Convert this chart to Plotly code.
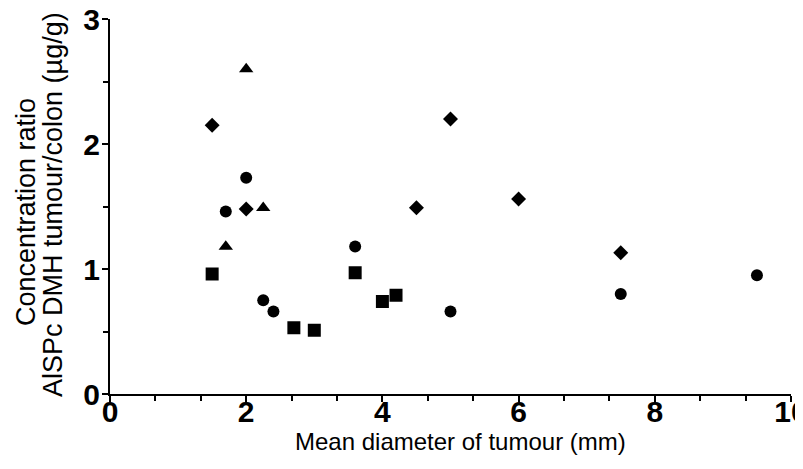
import plotly.graph_objects as go

# Data
circle_x = [1.7, 2.0, 2.25, 2.4, 3.6, 5.0, 7.5, 9.5]
circle_y = [1.46, 1.73, 0.75, 0.66, 1.18, 0.66, 0.80, 0.95]

square_x = [1.5, 2.7, 3.0, 3.6, 4.0, 4.2]
square_y = [0.96, 0.53, 0.51, 0.97, 0.74, 0.79]

triangle_x = [1.7, 2.0, 2.25]
triangle_y = [1.18, 2.60, 1.49]

diamond_x = [1.5, 2.0, 4.5, 5.0, 6.0, 7.5]
diamond_y = [2.15, 1.48, 1.49, 2.20, 1.56, 1.13]

x_ticks = [0, 2, 4, 6, 8, 10]
y_ticks = [0, 1, 2, 3]

y_title_lines = ["Concentration ratio", "AlSPc DMH tumour/colon (µg/g)"]
x_title = "Mean diameter of tumour (mm)"

fig = go.Figure()
series = [
    (circle_x, circle_y, "circle", 12),
    (square_x, square_y, "square", 13),
    (triangle_x, triangle_y, "triangle-up", 12.5),
    (diamond_x, diamond_y, "diamond", 11.5),
]
for xs, ys, sym, sz in series:
    fig.add_trace(go.Scatter(
        x=xs, y=ys, mode="markers",
        marker=dict(symbol=sym, size=sz, color="black", line=dict(width=0)),
        showlegend=False, cliponaxis=False,
    ))

tickfont = dict(family="Liberation Sans Narrow, Arial Narrow, sans-serif", size=30, color="black", weight="bold")
xtitlefont = dict(family="Liberation Sans, Arial, sans-serif", size=24, color="black")
ytitlefont = dict(family="Liberation Sans, Arial, sans-serif", size=27, color="black")

# page body has an 8px margin, so the figure is sized/offset to compensate
fig.update_layout(
    width=795, height=461,
    margin=dict(l=102, r=12, t=11, b=75),
    paper_bgcolor="white", plot_bgcolor="white",
    xaxis=dict(
        range=[0, 10], tickvals=x_ticks, ticktext=[str(v) for v in x_ticks],
        showgrid=False, zeroline=False, showline=True, linecolor="black", linewidth=2,
        ticks="outside", ticklen=6, tickwidth=2, tickcolor="black",
        minor=dict(dtick=2/3, tick0=0, ticks="outside", ticklen=5, tickwidth=2, tickcolor="black", showgrid=False),
        tickfont=tickfont, automargin=False, ticklabeloverflow="allow",
        ticklabelstandoff=-16,
    ),
    yaxis=dict(
        range=[0, 3], tickvals=y_ticks, ticktext=[str(v) for v in y_ticks],
        showgrid=False, zeroline=False, showline=True, linecolor="black", linewidth=2,
        ticks="outside", ticklen=6, tickwidth=2, tickcolor="black",
        minor=dict(dtick=0.5, tick0=0, ticks="outside", ticklen=5, tickwidth=2, tickcolor="black", showgrid=False),
        tickfont=tickfont, automargin=False, ticklabeloverflow="allow",
        ticklabelstandoff=-4,
    ),
)

PLOT_L, PLOT_R, PLOT_T, PLOT_B = 110, 791, 19, 394  # target page pixels of plot area
W, H = PLOT_R - PLOT_L, PLOT_B - PLOT_T

# Two-line rotated y-axis title placed as annotations
for text, px_x, px_y in [(y_title_lines[0], 26, 212), (y_title_lines[1], 53, 205)]:
    fig.add_annotation(
        text=text, textangle=-90, showarrow=False,
        xref="paper", yref="paper",
        x=(px_x - PLOT_L) / W, y=(PLOT_B - px_y) / H,
        xanchor="center", yanchor="middle",
        font=ytitlefont,
    )

fig.add_annotation(
    text=x_title, showarrow=False, xref="paper", yref="paper",
    x=(460 - PLOT_L) / W, y=(PLOT_B - 441) / H,
    xanchor="center", yanchor="middle", font=xtitlefont,
)

fig.write_html("out.html")
